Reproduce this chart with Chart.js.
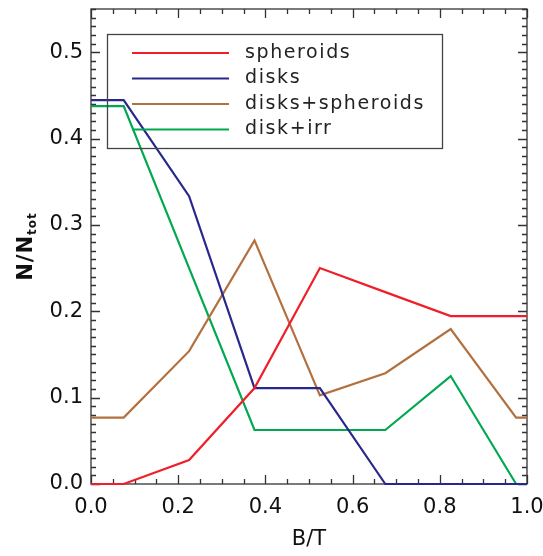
<html>
<head>
<script src="https://cdn.jsdelivr.net/npm/chart.js"></script>
<style>
  html, body { margin: 0; padding: 0; background: #fff; }
  #wrap { width: 543px; height: 556px; }
</style>
<script type="text/javascript">
// bin centres of B/T, with the edge points at 0 and 1
var binCenters = [0.0, 0.075, 0.225, 0.375, 0.525, 0.675, 0.825, 0.975, 1.0];

var spheroids      = [0, 0, 0.0278, 0.1111, 0.25, 0.2222, 0.1944, 0.1944, 0.1944];
var disks          = [0.4444, 0.4444, 0.3333, 0.1111, 0.1111, 0, 0, 0, 0];
var disksSpheroids = [0.0769, 0.0769, 0.1538, 0.2821, 0.1026, 0.1282, 0.1795, 0.0769, 0.0769];
var diskIrr        = [0.4375, 0.4375, 0.25, 0.0625, 0.0625, 0.0625, 0.125, 0, 0];

var seriesNames = ['spheroids', 'disks', 'disks+spheroids', 'disk+irr'];
var seriesColors = ['rgb(240,30,40)', 'rgb(40,40,140)', 'rgb(178,112,62)', 'rgb(0,168,80)'];

var xTickVals = [0.0, 0.2, 0.4, 0.6, 0.8, 1.0];
var yTickVals = [0.0, 0.1, 0.2, 0.3, 0.4, 0.5];
var xMinorStep = 0.05;
var yMinorStep = 0.01;

var myChart = null;

function points(ys) {
    var out = [];
    for (var i = 0; i < ys.length; ++i) {
        out.push({x: binCenters[i], y: ys[i]});
    }
    return out;
}

var allSeries = [spheroids, disks, disksSpheroids, diskIrr];
var datasets = [];
for (var k = 0; k < allSeries.length; ++k) {
    datasets.push({
        label: seriesNames[k],
        data: points(allSeries[k]),
        borderColor: seriesColors[k],
        backgroundColor: seriesColors[k],
        borderWidth: 2.2,
        pointRadius: 0,
        tension: 0,
        fill: false,
        clip: false
    });
}

// IDL-like frame: box and inward ticks on all sides (under the lines)
var idlFrame = {
    id: 'idlFrame',
    beforeDatasetsDraw: function (chart) {
        var ctx = chart.ctx;
        var a = chart.chartArea;
        var xs = chart.scales.x, ys = chart.scales.y;
        ctx.save();
        ctx.strokeStyle = '#333';
        ctx.lineWidth = 1.3;
        ctx.strokeRect(a.left, a.top, a.right - a.left, a.bottom - a.top);

        ctx.beginPath();
        var v, px, len, i;
        for (i = 0; i <= Math.round((xs.max - xs.min) / xMinorStep); ++i) {
            v = xs.min + i * xMinorStep;
            px = Math.round(xs.getPixelForValue(v)) + 0.5;
            len = (i % 4 === 0) ? 9 : 5;
            ctx.moveTo(px, a.bottom); ctx.lineTo(px, a.bottom - len);
            ctx.moveTo(px, a.top); ctx.lineTo(px, a.top + len);
        }
        for (i = 0; i * yMinorStep <= ys.max + 1e-9; ++i) {
            v = i * yMinorStep;
            px = Math.round(ys.getPixelForValue(v)) + 0.5;
            len = (i % 10 === 0) ? 9 : 5;
            ctx.moveTo(a.left, px); ctx.lineTo(a.left + len, px);
            ctx.moveTo(a.right, px); ctx.lineTo(a.right - len, px);
        }
        ctx.stroke();
        ctx.restore();
    },
    // legend box and y title N/N_tot
    afterDatasetsDraw: function (chart) {
        var ctx = chart.ctx;
        var a = chart.chartArea;
        var i;
        ctx.save();
        ctx.strokeStyle = '#444';
        ctx.lineWidth = 1.3;
        ctx.strokeRect(107.5, 34.5, 335, 114);
        ctx.font = '19px "DejaVu Sans"';
        ctx.letterSpacing = '1.6px';
        ctx.textBaseline = 'middle';
        ctx.fillStyle = '#222';
        var ds = chart.data.datasets;
        for (i = 0; i < ds.length; ++i) {
            var ly = 53 + i * 25.5;
            ctx.strokeStyle = ds[i].borderColor;
            ctx.lineWidth = 2.2;
            ctx.beginPath();
            ctx.moveTo(132, ly); ctx.lineTo(229, ly);
            ctx.stroke();
            ctx.fillText(ds[i].label, 245, ly);
        }

        ctx.translate(27, (a.top + a.bottom) / 2);
        ctx.rotate(-Math.PI / 2);
        ctx.letterSpacing = '1px';
        ctx.textBaseline = 'middle';
        ctx.textAlign = 'left';
        var main = 'N/N';
        var sub = 'tot';
        ctx.font = 'bold 21px "DejaVu Sans"';
        var wMain = ctx.measureText(main).width;
        ctx.font = 'bold 12px "DejaVu Sans"';
        var wSub = ctx.measureText(sub).width;
        var x0 = -(wMain + wSub) / 2;
        ctx.font = 'bold 21px "DejaVu Sans"';
        ctx.fillStyle = '#111';
        ctx.fillText(main, x0, 0);
        ctx.font = 'bold 12px "DejaVu Sans"';
        ctx.fillText(sub, x0 + wMain, 6);
        ctx.restore();
    }
};

var config = {
    type: 'line',
    data: { datasets: datasets },
    options: {
        responsive: false,
        animation: false,
        layout: { padding: { left: 0, right: 16, top: 9, bottom: 0 } },
        plugins: { legend: { display: false }, tooltip: { enabled: false } },
        scales: {
            x: {
                type: 'linear',
                min: 0, max: 1,
                grid: { display: false, drawTicks: false },
                border: { display: false },
                afterBuildTicks: function (s) { s.ticks = xTickVals.map(function (v) { return {value: v}; }); },
                afterFit: function (s) { s.height = 72; s.paddingLeft = 0; s.paddingRight = 0; },
                ticks: {
                    padding: 11,
                    color: '#111',
                    maxRotation: 0,
                    font: { family: 'DejaVu Sans', size: 21 },
                    callback: function (v) { return v.toFixed(1); }
                },
                title: {
                    display: true, text: 'B/T', color: '#111',
                    font: { family: 'DejaVu Sans', size: 21 },
                    padding: { top: 0, bottom: 4 }
                }
            },
            y: {
                type: 'linear',
                min: 0, max: 0.55,
                grid: { display: false, drawTicks: false },
                border: { display: false },
                afterBuildTicks: function (s) { s.ticks = yTickVals.map(function (v) { return {value: v}; }); },
                afterFit: function (s) { s.width = 91; s.paddingTop = 0; s.paddingBottom = 0; },
                ticks: {
                    padding: 8,
                    color: '#111',
                    font: { family: 'DejaVu Sans', size: 21 },
                    callback: function (v) { return v.toFixed(1); }
                }
            }
        }
    },
    plugins: [idlFrame]
};

function loadChart() {
    if (myChart == null) {
        myChart = new Chart(document.getElementById('myChart'), config);
    }
}
</script>
</head>
<body onLoad="loadChart()">
<div id="wrap">
    <canvas id="myChart" width="543" height="556"></canvas>
</div>
</body>
</html>
